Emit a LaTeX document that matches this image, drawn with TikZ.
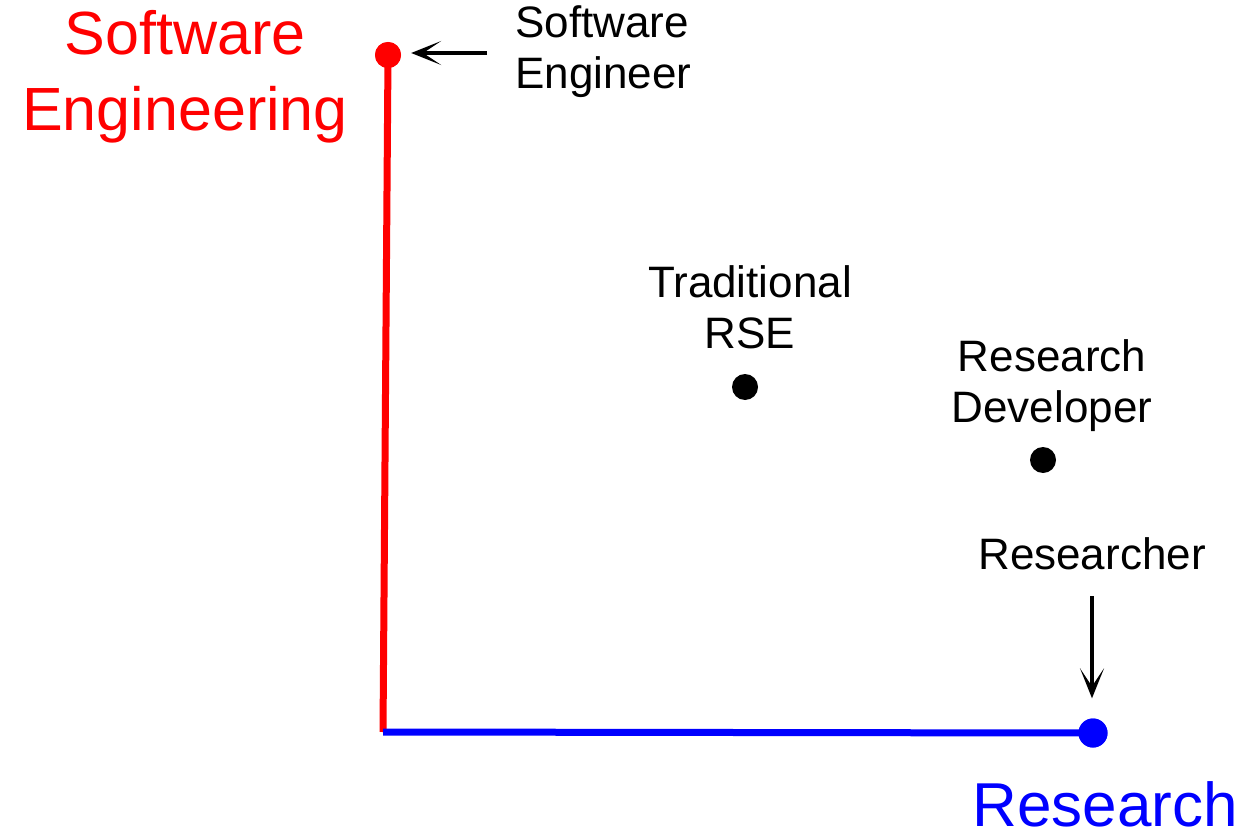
\documentclass[tikz,border=0pt]{standalone}
\usepackage{fontspec}
\setmainfont{Liberation Sans}
\usetikzlibrary{arrows.meta}
\definecolor{axisred}{RGB}{255,0,0}
\definecolor{axisblue}{RGB}{0,0,255}
\begin{document}
\begin{tikzpicture}[x=1pt,y=-1pt,
  axislabel/.style={font=\fontsize{61}{76}\selectfont, align=center, inner sep=0pt, anchor=base},
  rolelabel/.style={font=\fontsize{44}{51}\selectfont, align=center, inner sep=0pt, anchor=base},
  dot/.style={circle, inner sep=0pt, minimum size=26pt},
  axisline/.style={line width=7pt},
  pointer/.style={draw=black, line width=3.6pt, -{Stealth[length=30pt,width=24pt,inset=18pt]}}
]
\useasboundingbox (0,0) rectangle (1244,834);

% axes origin and end points
\coordinate (origin) at (383,732);
\node[dot, fill=axisred] (se) at (388,55) {};
\node[dot, fill=axisblue, minimum size=29pt] (res) at (1093,733) {};

\draw[axisline, draw=axisred] (origin) -- (se.center);
\draw[axisline, draw=axisblue] (origin) -- (res.center);
\node[dot, fill=axisred] at (se) {};
\node[dot, fill=axisblue, minimum size=29pt] at (res) {};

% axis titles (anchored at the baseline of their last line)
\node[axislabel, text=axisred] (setitle) at (185,131) {Software\\Engineering};
\node[axislabel, text=axisblue, font=\fontsize{62}{76}\selectfont] (restitle) at (1105,826) {Research};

% role positions
\node[dot, fill=black] (trse) at (745,387) {};
\node[dot, fill=black] (rdev) at (1043,460) {};

% role labels
\node[rolelabel, align=left, anchor=base west] (selabel) at (515,89) {Software\\Engineer};
\node[rolelabel] (trselabel) at (750,348) {Traditional\\RSE};
\node[rolelabel] (rdevlabel) at (1052,422) {Research\\Developer};
\node[rolelabel] (reslabel) at (1092,569) {Researcher};

% pointers to the axis ends
\coordinate (setail) at (487,53);
\coordinate (restail) at (1092,596);
\draw[pointer, shorten >=10pt] (setail) -- (setail -| se.east);
\draw[pointer, shorten >=20pt] (restail) -- (restail |- res.north);
\end{tikzpicture}
\end{document}
